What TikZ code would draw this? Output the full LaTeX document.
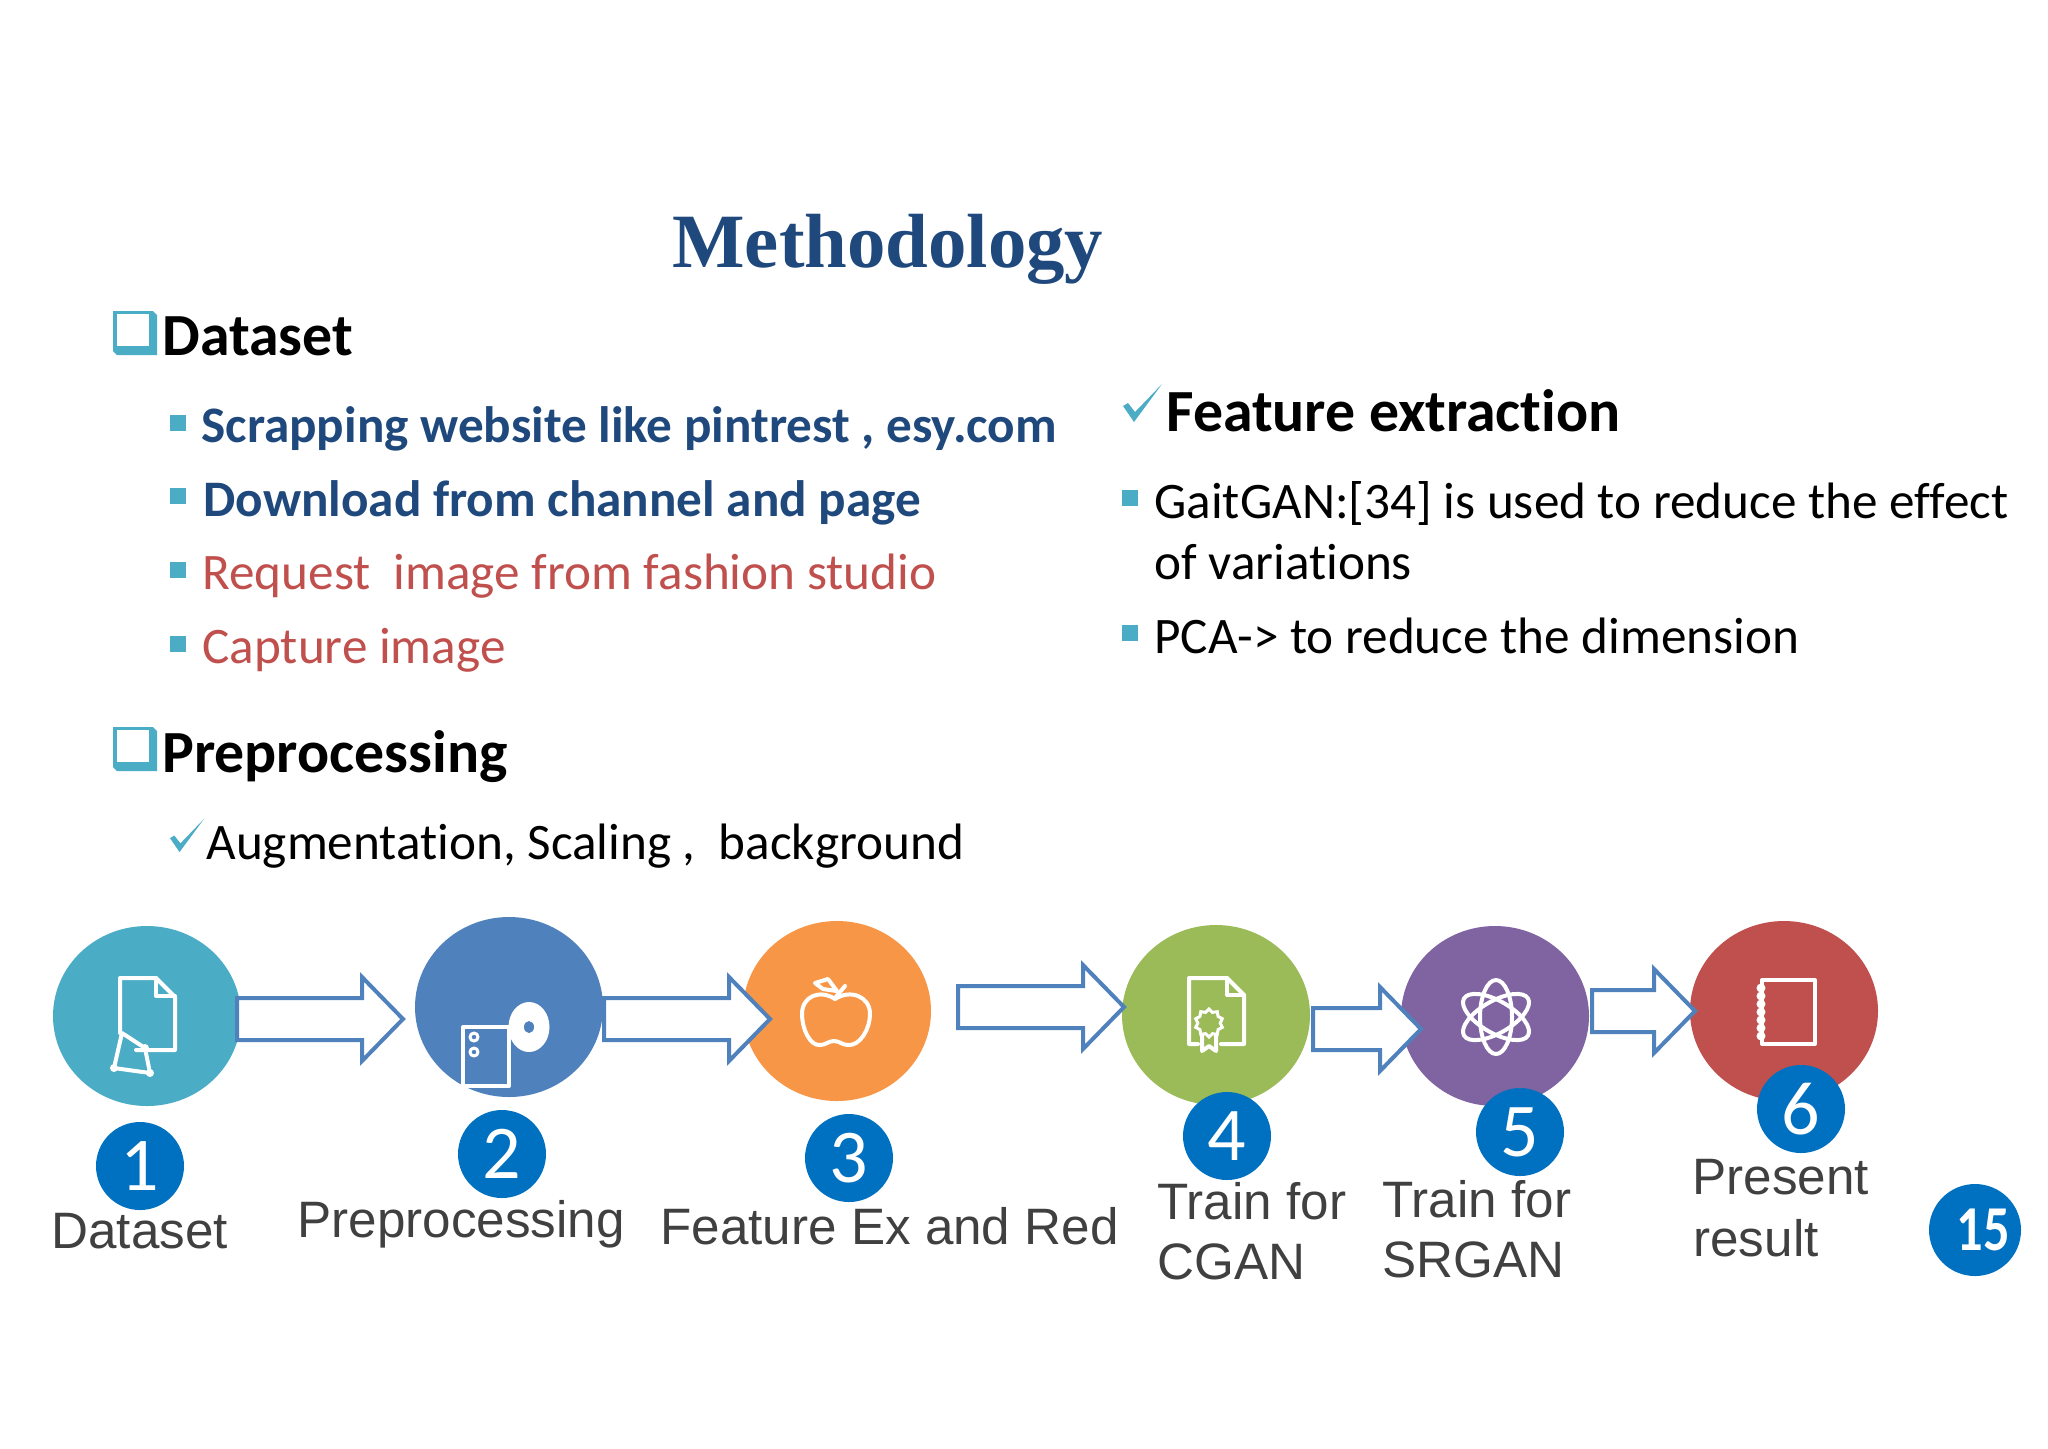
\documentclass[tikz,border=0pt]{standalone}
\usepackage{fontspec}
\usepackage{graphicx}
\setmainfont{Carlito}[Ligatures=CommonOff]
\newfontfamily\labelfont{Liberation Sans}
\newfontfamily\titlefont{Liberation Serif}
\usetikzlibrary{shapes.geometric}
\definecolor{tealc}{HTML}{4BACC6}
\definecolor{bluec}{HTML}{4F81BD}
\definecolor{orangec}{HTML}{F79646}
\definecolor{greenc}{HTML}{9BBB59}
\definecolor{purplec}{HTML}{8064A2}
\definecolor{redc}{HTML}{C0504D}
\definecolor{badgec}{HTML}{0070C0}
\definecolor{navyc}{HTML}{1F497D}
\definecolor{greyc}{HTML}{404040}
\tikzset{
  txt/.style={inner sep=0pt, anchor=base west},
  headtxt/.style={txt, font=\fontsize{29.9}{35}\selectfont\bfseries, text=black},
  subtxt/.style={txt, font=\fontsize{25.6}{30}\selectfont\bfseries, text=navyc},
  redtxt/.style={txt, font=\fontsize{25.6}{30}\selectfont, text=redc},
  plaintxt/.style={txt, font=\fontsize{25.6}{30}\selectfont, text=black},
  steptxt/.style={txt, font=\fontsize{25.6}{30}\selectfont\labelfont, text=greyc},
  bulletbox/.style={rectangle, fill=tealc, minimum size=8pt, inner sep=0pt},
  disc/.style={ellipse, minimum width=94pt, minimum height=90pt, inner sep=0pt},
  badge/.style={circle, fill=badgec, minimum size=44pt, inner sep=0pt, text=white, font=\fontsize{38}{38}\selectfont},
  icon/.style={draw=white, line width=2pt, line join=round, line cap=round},
  blockarrow/.style={draw=bluec, fill=white, line width=2pt, line join=miter,
    to path={([shift={(0,-21)}]\tikztostart) -- ([shift={(-41,-21)}]\tikztotarget)
      -- ([shift={(-41,-42)}]\tikztotarget) -- (\tikztotarget)
      -- ([shift={(-41,42)}]\tikztotarget) -- ([shift={(-41,21)}]\tikztotarget)
      -- ([shift={(0,21)}]\tikztostart) -- cycle}},
  tick/.pic={\fill[tealc] (0,22)--(5,19)--(12,28)--(39,0)--(11,38)--cycle;},
  tickbox/.pic={
    \fill[tealc] (0,0)--(40,0)--(44,4)--(44,44)--(4,44)--(0,40)--cycle;
    \fill[white] (4,3) rectangle (36,35);
  }
}
\begin{document}
\begin{tikzpicture}[x=0.5pt,y=-0.5pt]
\useasboundingbox (0,0) rectangle (2048,1448);

\node[txt, font=\fontsize{38.4}{46}\selectfont\bfseries\titlefont, text=navyc] (title) at (672,267) {Methodology};

\pic at (113,311) {tickbox};
\node[headtxt] (dataset) at (162,355) {Dataset};
\node[bulletbox] (b1) at (178,423) {};
\node[bulletbox] (b2) at (178,496) {};
\node[bulletbox] (b3) at (178,570) {};
\node[bulletbox] (b4) at (178,644) {};
\node[subtxt] (scrap) at (201,442) {Scrapping website like pintrest , esy.com};
\node[subtxt] (down) at (203,516) {Download from channel and page};
\node[redtxt] (req) at (202,589) {Request\ \ image from fashion studio};
\node[redtxt] (cap) at (202,663) {Capture image};

\pic at (113,727) {tickbox};
\node[headtxt] (prep) at (162,772) {Preprocessing};
\pic[scale=0.87] at (170,819) {tick};
\node[plaintxt] (aug) at (206,859) {Augmentation, Scaling ,\ \ background};

\pic at (1123,384) {tick};
\node[headtxt] (feat) at (1166,431) {Feature extraction};
\node[bulletbox] (b5) at (1130,498) {};
\node[bulletbox] (b6) at (1130,633) {};
\node[plaintxt] (gait) at (1154,518) {GaitGAN:[34] is used to reduce the effect};
\node[plaintxt] (vari) at (1154,579) {of variations};
\node[plaintxt] (pca) at (1154,653) {PCA-> to reduce the dimension};

\node[disc, fill=tealc] (c1) at (147,1016) {};
\node[disc, fill=bluec] (c2) at (509,1007) {};
\node[disc, fill=orangec] (c3) at (837,1011) {};
\node[disc, fill=greenc] (c4) at (1216,1015) {};
\node[disc, fill=purplec] (c5) at (1495,1016) {};
\node[disc, fill=redc] (c6) at (1784,1011) {};

\draw[icon] (120,1033)--(120,978)--(156,978)--(175,997)--(175,1050)--(136,1050);
\draw[icon] (156,978)--(156,996)--(175,996);
\draw[icon] (122,1033)--(145,1048)--(150,1073)--(114,1068)--cycle;
\foreach \Point in {(145,1048),(150,1073),(114,1068)}
  \fill[white] \Point circle (4);

\fill[white] (529,1027) ellipse (20.5 and 25);
\fill[bluec] (529,1027) ellipse (5 and 6);
\draw[icon, fill=bluec] (463,1027) rectangle (509,1086);
\draw[icon, line width=1.5pt] (474,1037) circle (4);
\draw[icon, line width=1.5pt] (474,1052) circle (4);

\draw[icon] (835,999) .. controls (820,989) and (802,996) .. (802,1014)
  .. controls (802,1029) and (810,1046) .. (820,1045)
  .. controls (826,1045) and (828,1041) .. (834,1041)
  .. controls (840,1041) and (842,1045) .. (848,1045)
  .. controls (860,1046) and (870,1029) .. (870,1014)
  .. controls (870,996) and (850,989) .. (835,999);
\draw[icon] (815,983)--(828,979)--(837,991)--(823,989)--cycle;
\draw[icon] (845,986)--(835,998);

\draw[icon] (1198,1044)--(1189,1044)--(1189,978)--(1227,978)--(1244,995)--(1244,1044)--(1221,1044);
\draw[icon] (1227,978)--(1227,995)--(1244,995);
\draw[icon] (1202,1033)--(1202,1051)--(1209,1046)--(1216,1051)--(1216,1033);
\node[star, star points=10, star point ratio=1.25, draw=white, fill=greenc, line width=1.5pt, minimum size=14pt, inner sep=0pt] (seal) at (1209,1023) {};

\foreach \a in {0,60,-60}
  \draw[icon] (1496,1017) [rotate around={\a:(1496,1017)}] ellipse (16 and 37);

\draw[icon] (1762,980) rectangle (1815,1044);
\foreach \y in {988,996,1004,1012,1020,1028,1036}
  \fill[white] (1761,\y) circle (4.5);

\coordinate (a1s) at (237,1019);
\coordinate (a1t) at (403,1019);
\coordinate (a2s) at (604,1019);
\coordinate (a2t) at (770,1019);
\coordinate (a3s) at (958,1007);
\coordinate (a3t) at (1124,1007);
\coordinate (a4s) at (1313,1029);
\coordinate (a4t) at (1421,1029);
\coordinate (a5s) at (1592,1011);
\coordinate (a5t) at (1695,1011);
\foreach \n in {1,...,5}
  \draw[blockarrow] (a\n s) to (a\n t);

\node[badge] (n1) at (140,1166) {1};
\node[badge] (n2) at (502,1154) {2};
\node[badge] (n3) at (849,1158) {3};
\node[badge] (n4) at (1227,1136) {4};
\node[badge] (n5) at (1520,1132) {5};
\node[badge] (n6) at (1801,1109) {6};
\node[badge, minimum size=46pt, font=\fontsize{32}{32}\selectfont\bfseries] (n15) at (1975,1230) {\hspace*{8pt}\scalebox{0.82}[1]{15}};

\node[steptxt] (l1) at (51,1248) {Dataset};
\node[steptxt] (l2) at (297,1237) {Preprocessing};
\node[steptxt] (l3) at (660,1244) {Feature Ex and Red};
\node[steptxt] (l4) at (1157,1219) {Train for};
\node[steptxt] (l4b) at (1157,1279) {CGAN};
\node[steptxt] (l5) at (1382,1217) {Train for};
\node[steptxt] (l5b) at (1382,1277) {SRGAN};
\node[steptxt] (l6) at (1692,1194) {Present};
\node[steptxt] (l6b) at (1693,1256) {result};
\end{tikzpicture}
\end{document}
